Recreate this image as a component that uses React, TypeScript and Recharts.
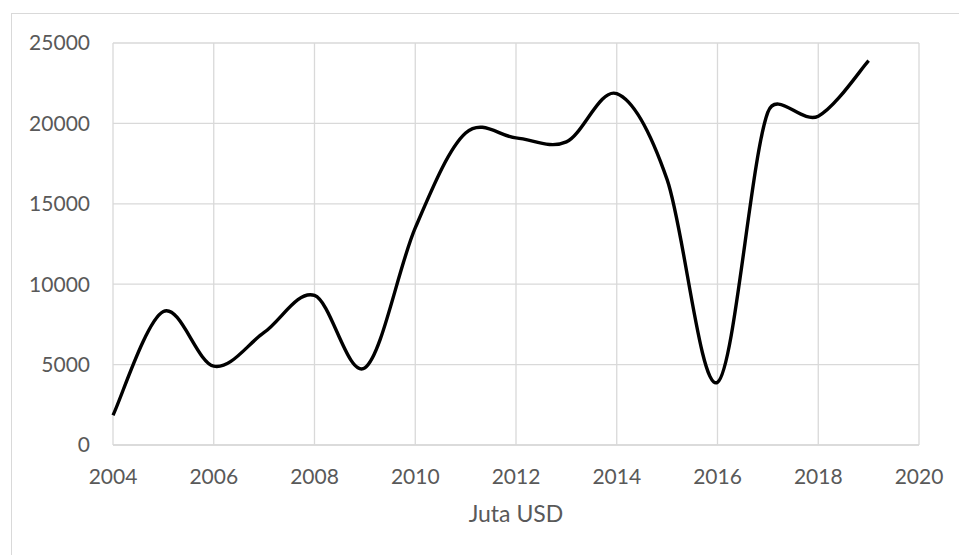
import React from 'react';
import { LineChart, Line, XAxis, YAxis, CartesianGrid } from 'recharts';

const years = [2004, 2005, 2006, 2007, 2008, 2009, 2010, 2011, 2012, 2013, 2014, 2015, 2016, 2017, 2018, 2019];
const values = [1850, 8300, 4900, 7000, 9300, 4800, 13500, 19400, 19100, 18850, 21850, 16500, 3900, 20700, 20450, 23900];
const xTicks = [2004, 2006, 2008, 2010, 2012, 2014, 2016, 2018, 2020];
const yTicks = [0, 5000, 10000, 15000, 20000, 25000];

const data = years.map((year, i) => ({ year, value: values[i] }));

const GRID = '#d9d9d9';
const TEXT = '#595959';
const FONT = 'Lato, "Open Sans", sans-serif';

const dist = (a: number[], b: number[]) => Math.hypot(b[0] - a[0], b[1] - a[1]);

// Excel-style smoothed line: bezier through every point, tangent 1/6 capped at half the segment
const smoothCurve = (context: any) => {
  let pts: number[][] = [];
  return {
    areaStart() {},
    areaEnd() {},
    lineStart() {
      pts = [];
    },
    point(x: number, y: number) {
      pts.push([+x, +y]);
    },
    lineEnd() {
      if (!pts.length) return;
      context.moveTo(pts[0][0], pts[0][1]);
      for (let i = 0; i < pts.length - 1; i++) {
        const p0 = pts[i - 1] || pts[i];
        const p1 = pts[i];
        const p2 = pts[i + 1];
        const p3 = pts[i + 2] || p2;
        const d12 = dist(p1, p2);
        const d02 = dist(p0, p2);
        const d13 = dist(p1, p3);
        const f1 = d02 / 6 < d12 / 2 ? 1 / 6 : d12 / (2 * d02);
        const f2 = d13 / 6 < d12 / 2 ? 1 / 6 : d12 / (2 * d13);
        context.bezierCurveTo(
          p1[0] + (p2[0] - p0[0]) * f1,
          p1[1] + (p2[1] - p0[1]) * f1,
          p2[0] - (p3[0] - p1[0]) * f2,
          p2[1] - (p3[1] - p1[1]) * f2,
          p2[0],
          p2[1],
        );
      }
    },
  };
};

const tickStyle = { fill: TEXT, fontSize: 21, fontFamily: FONT };

export default function App() {
  return (
    <div style={{ position: 'absolute', left: 0, top: 0, width: 959, height: 555, background: '#fff' }}>
      <div
        style={{
          position: 'absolute',
          left: 11,
          top: 13,
          right: 0,
          bottom: 0,
          borderTop: `1.5px solid ${GRID}`,
          borderLeft: `1.5px solid ${GRID}`,
        }}
      />
      <LineChart
        width={959}
        height={555}
        data={data}
        margin={{ top: 43, right: 40, bottom: 30, left: 0 }}
        style={{ position: 'absolute', left: 0, top: 0 }}
      >
        <CartesianGrid stroke={GRID} strokeWidth={1.3} />
        <XAxis
          dataKey="year"
          type="number"
          domain={[2004, 2020]}
          ticks={xTicks}
          height={80}
          tickSize={0}
          tickMargin={24}
          axisLine={{ stroke: GRID, strokeWidth: 1.3 }}
          tickLine={false}
          tick={tickStyle}
          label={{
            value: 'Juta USD',
            position: 'insideBottom',
            offset: 3,
            fill: TEXT,
            fontSize: 23,
            fontFamily: FONT,
          }}
        />
        <YAxis
          domain={[0, 25000]}
          ticks={yTicks}
          width={113}
          tickSize={0}
          tickMargin={23}
          axisLine={false}
          tickLine={false}
          tick={tickStyle}
        />
        <Line
          dataKey="value"
          type={smoothCurve as any}
          stroke="#000"
          strokeWidth={3.4}
          dot={false}
          isAnimationActive={false}
        />
      </LineChart>
    </div>
  );
}
